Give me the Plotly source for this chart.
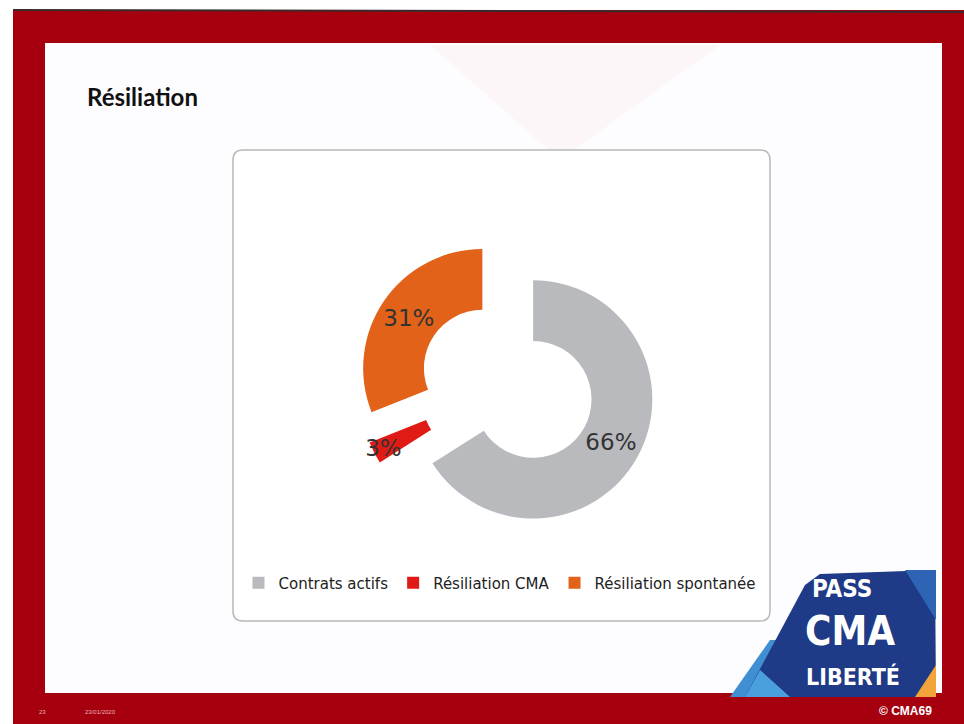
import plotly.graph_objects as go

# ---- data ----
labels = ["Contrats actifs", "Résiliation CMA", "Résiliation spontanée"]
values = [66, 3, 31]
colors = ["#b9babe", "#e01b16", "#e2621a"]
pulls = [0.25, 0.25, 0.25]

W, H = 964, 724

def px(x):
    return x / W

def py(y):
    return 1 - y / H

fig = go.Figure()
fig.add_trace(go.Pie(
    labels=labels,
    values=values,
    sort=False,
    direction="clockwise",
    rotation=0,
    hole=0.49,
    pull=pulls,
    marker=dict(colors=colors, line=dict(width=0)),
    textinfo="percent",
    textposition="inside",
    insidetextorientation="horizontal",
    textfont=dict(family="DejaVu Sans", size=23, color="#333333"),
    domain=dict(x=[px(358), px(656)], y=[py(534), py(236)]),
    hoverinfo="label+percent",
))

shapes = []
# red slide border
shapes.append(dict(type="rect", xref="paper", yref="paper", x0=px(13), x1=1.0, y0=0, y1=py(10),
                   fillcolor="#a6000f", line=dict(width=0), layer="below"))
# dark scan line on top of border
shapes.append(dict(type="line", xref="paper", yref="paper", x0=px(13), x1=1.0, y0=py(10), y1=py(12),
                   line=dict(color="#3a2a2c", width=2), layer="below"))
# inner white slide
shapes.append(dict(type="rect", xref="paper", yref="paper", x0=px(45), x1=px(942), y0=py(693), y1=py(43),
                   fillcolor="#fdfcfe", line=dict(width=0), layer="below"))
# faint pink diagonal in background
shapes.append(dict(type="path", xref="paper", yref="paper",
                   path=f"M {px(430)} {py(45)} L {px(720)} {py(45)} L {px(560)} {py(160)} Z",
                   fillcolor="#fcf6f9", line=dict(width=0), layer="below"))

# chart box (rounded rectangle)
x0, y0, x1, y1, r = 233, 150, 770, 621, 10
def P(x, y):
    return f"{px(x)},{py(y)}"
box_path = (f"M {P(x0 + r, y0)} L {P(x1 - r, y0)} Q {P(x1, y0)} {P(x1, y0 + r)} "
            f"L {P(x1, y1 - r)} Q {P(x1, y1)} {P(x1 - r, y1)} L {P(x0 + r, y1)} "
            f"Q {P(x0, y1)} {P(x0, y1 - r)} L {P(x0, y0 + r)} Q {P(x0, y0)} {P(x0 + r, y0)} Z")
shapes.append(dict(type="path", xref="paper", yref="paper", path=box_path,
                   fillcolor="#ffffff", line=dict(color="#b8b8b8", width=1.5), layer="below"))

# logo shapes
def poly(pts, color):
    d = "M " + " L ".join(P(x, y) for x, y in pts) + " Z"
    return dict(type="path", xref="paper", yref="paper", path=d, fillcolor=color,
                line=dict(width=0), layer="above")

shapes.append(poly([(730, 697), (770, 640), (800, 640), (800, 697)], "#3f8fd2"))
shapes.append(poly([(745, 697), (805, 585), (820, 574), (935, 570), (936, 697)], "#1f3a86"))
shapes.append(poly([(905, 570), (936, 570), (936, 620)], "#2f64b4"))
shapes.append(poly([(915, 697), (936, 665), (936, 697)], "#f2a33a"))
shapes.append(poly([(745, 697), (760, 670), (790, 697)], "#4aa0de"))

logo_font = "DejaVu Sans Condensed, DejaVu Sans"
annotations = [
    dict(text="<b>Résiliation</b>", x=px(85), y=py(97), xref="paper", yref="paper",
         xanchor="left", yanchor="middle", showarrow=False,
         font=dict(family="Lato", size=24, color="#111111")),
    dict(text="<b>PASS</b>", x=px(842), y=py(589), xref="paper", yref="paper", xanchor="center", yanchor="middle",
         showarrow=False, font=dict(family=logo_font, size=24, color="#ffffff")),
    dict(text="<b>CMA</b>", x=px(850), y=py(631), xref="paper", yref="paper", xanchor="center", yanchor="middle",
         showarrow=False, font=dict(family=logo_font, size=40, color="#ffffff")),
    dict(text="<b>LIBERTÉ</b>", x=px(853), y=py(676), xref="paper", yref="paper", xanchor="center", yanchor="middle",
         showarrow=False, font=dict(family=logo_font, size=23, color="#ffffff")),
    dict(text="<b>© CMA69</b>", x=px(905), y=py(711), xref="paper", yref="paper", xanchor="center", yanchor="middle",
         showarrow=False, font=dict(family="Liberation Sans", size=12, color="#ffffff")),
    dict(text="23", x=px(42), y=py(712), xref="paper", yref="paper", xanchor="center", yanchor="middle",
         showarrow=False, font=dict(family="Liberation Sans", size=6, color="#e9b5b8")),
    dict(text="23/01/2020", x=px(100), y=py(712), xref="paper", yref="paper", xanchor="center", yanchor="middle",
         showarrow=False, font=dict(family="Liberation Sans", size=6, color="#e9b5b8")),
]

fig.update_layout(
    width=W, height=H,
    margin=dict(l=0, r=0, t=0, b=0),
    paper_bgcolor="#ffffff",
    plot_bgcolor="#ffffff",
    shapes=shapes,
    annotations=annotations,
    uniformtext=dict(minsize=23, mode="show"),
    showlegend=True,
    legend=dict(orientation="h", x=px(500), xanchor="center", y=py(583), yanchor="middle",
                font=dict(family="DejaVu Sans", size=15, color="#222222"),
                bgcolor="rgba(0,0,0,0)", itemwidth=30, traceorder="normal"),
)

fig.write_html("out.html", config={"displayModeBar": False},
               post_script="document.body.style.margin='0';document.body.style.overflow='hidden';")
